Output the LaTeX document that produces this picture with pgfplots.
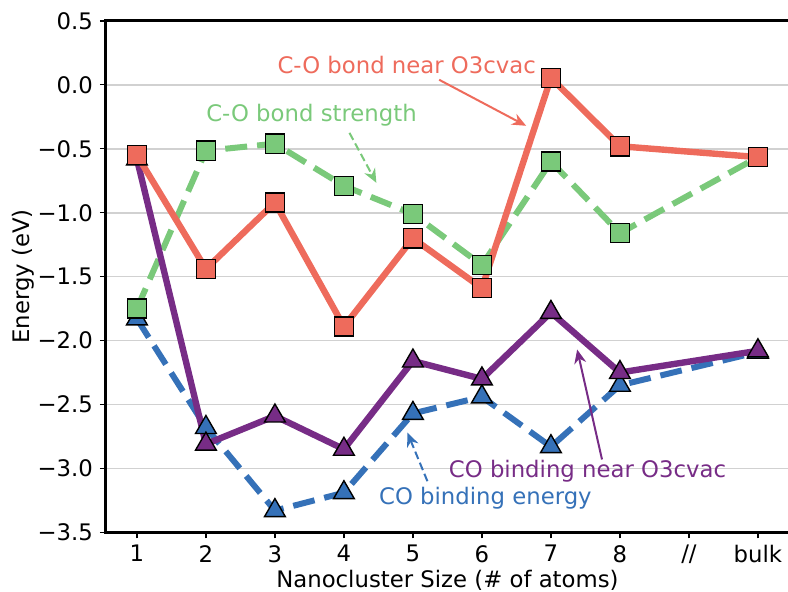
\documentclass[border=0pt]{standalone}
\usepackage{fontspec}
\setmainfont{DejaVu Sans}
\usepackage{pgfplots}
\pgfplotsset{compat=1.18}
\usetikzlibrary{arrows.meta,calc}
\definecolor{cored}{HTML}{EE6B5C}
\definecolor{cogreen}{HTML}{7AC97A}
\definecolor{coblue}{HTML}{3571B8}
\definecolor{copurple}{HTML}{772C86}
\newcommand{\fs}{\fontsize{11.4pt}{13pt}\selectfont}

\begin{document}
\begin{tikzpicture}
\begin{axis}[
  width=342pt, height=256pt, scale only axis,
  xmin=0.55, xmax=10.45, ymin=-3.5, ymax=0.5,
  xtick={1,2,3,4,5,6,7,8,9,10},
  xticklabels={1,2,3,4,5,6,7,8,//,bulk},
  ytick={-3.5,-3.0,-2.5,-2.0,-1.5,-1.0,-0.5,0.0,0.5},
  yticklabels={−3.5,−3.0,−2.5,−2.0,−1.5,−1.0,−0.5,0.0,0.5},
  tick pos=left, tick align=outside,
  major tick length=3pt,
  every tick/.style={black, line width=0.6pt},
  ymajorgrids, grid style={black!18, line width=0.8pt},
  axis line style={line width=1.5pt},
  tick label style={font=\fs},
  label style={font=\fs},
  xlabel={Nanocluster Size (\# of atoms)},
  ylabel={Energy (eV)},
  xlabel style={yshift=4pt},
  ylabel style={yshift=-5pt},
]
% CO binding energy
\addplot[coblue, line width=3pt, dash pattern=on 11pt off 5pt, mark=triangle*, mark size=6pt,
  mark options={solid, draw=black, line width=0.7pt, fill=coblue}]
  coordinates {(1,-1.83) (2,-2.68) (3,-3.33) (4,-3.19) (5,-2.57) (6,-2.44) (7,-2.83) (8,-2.35) (10,-2.09)};
% C-O bond strength
\addplot[cogreen, line width=3pt, dash pattern=on 11pt off 5pt, mark=square*, mark size=4.8pt,
  mark options={solid, draw=black, line width=0.7pt, fill=cogreen}]
  coordinates {(1,-1.75) (2,-0.515) (3,-0.46) (4,-0.79) (5,-1.01) (6,-1.41) (7,-0.60) (8,-1.16) (10,-0.565)};
% CO binding near O3cvac
\addplot[copurple, line width=3.2pt, mark=triangle*, mark size=6pt,
  mark options={solid, draw=black, line width=0.7pt, fill=copurple}]
  coordinates {(1,-0.58) (2,-2.81) (3,-2.59) (4,-2.85) (5,-2.16) (6,-2.30) (7,-1.78) (8,-2.25) (10,-2.08)};
% C-O bond near O3cvac
\addplot[cored, line width=3.2pt, mark=square*, mark size=4.8pt,
  mark options={solid, draw=black, line width=0.7pt, fill=cored}]
  coordinates {(1,-0.55) (2,-1.44) (3,-0.92) (4,-1.89) (5,-1.20) (6,-1.59) (7,0.055) (8,-0.48) (10,-0.565)};

\node[text=cored, font=\fs] at (axis cs:4.91,0.156) {C-O bond near O3cvac};
\draw[cored, line width=1pt, -{Stealth[length=7pt,width=6pt]}] (axis cs:5.38,0.04) -- (axis cs:6.64,-0.32);
\node[text=cogreen, font=\fs] at (axis cs:3.53,-0.234) {C-O bond strength};
\draw[cogreen, line width=1pt, dash pattern=on 4pt off 2pt, -{Stealth[length=7pt,width=6pt]}] (axis cs:4.08,-0.375) -- (axis cs:4.47,-0.766);
\node[text=copurple, font=\fs] at (axis cs:7.53,-3.02) {CO binding near O3cvac};
\draw[copurple, line width=1pt, -{Stealth[length=7pt,width=6pt]}] (axis cs:7.74,-2.93) -- (axis cs:7.38,-2.07);
\node[text=coblue, font=\fs] at (axis cs:6.05,-3.23) {CO binding energy};
\draw[coblue, line width=1pt, dash pattern=on 4pt off 2pt, -{Stealth[length=7pt,width=6pt]}] (axis cs:5.21,-3.10) -- (axis cs:4.92,-2.72);
\end{axis}
\pgfresetboundingbox
\path[use as bounding box] ($(current axis.south west)+(-53pt,-29.5pt)$) rectangle ($(current axis.north east)+(-0.5pt,10.5pt)$);
\end{tikzpicture}
\end{document}
